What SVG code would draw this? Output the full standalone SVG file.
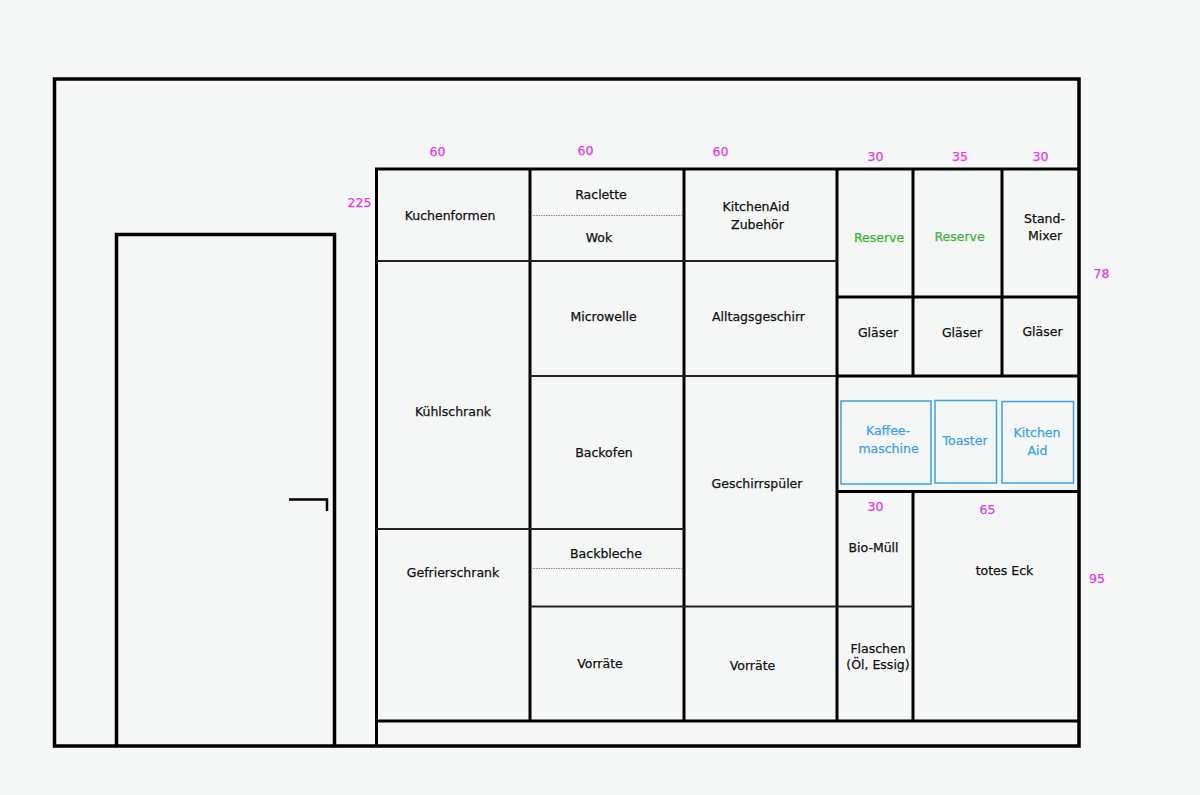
<svg xmlns="http://www.w3.org/2000/svg" width="1200" height="795" viewBox="0 0 1200 795">
<style>
text{font-family:"DejaVu Sans","Liberation Sans",sans-serif;font-size:12.5px;text-anchor:middle;fill:#111;stroke:#111;stroke-width:0.25}
.dim{fill:#e23ce6;stroke:#e23ce6}
.green{fill:#3bb53b;stroke:#3bb53b}
.blue{fill:#3aa3e6;stroke:#3aa3e6}
.wall{fill:none;stroke:#000;stroke-width:3.5}
.k{stroke:#000;stroke-width:3;fill:none}
.t{stroke:#222;stroke-width:2;fill:none}
.dot{stroke:#888;stroke-width:1;stroke-dasharray:1.5 1;fill:none}
.app{fill:none;stroke:#3aa3e6;stroke-width:1.5}
</style>
<rect width="1200" height="795" fill="#f5f6f6"/>
<g id="room">
<rect class="wall" x="54.5" y="79" width="1024.5" height="667"/>
</g>
<g id="door">
<path class="wall" d="M116.5 746V234.5H334.5V746"/>
<path d="M289 499.5H327V511" fill="none" stroke="#000" stroke-width="2.5"/>
</g>
<g id="grid">
<path class="k" d="M376.5 746V169H1079"/>
<path class="k" d="M376.5 721H1079"/>
<path class="k" d="M530 169V721M684 169V721M837 169V721"/>
<path class="k" d="M913 169V376M1002 169V376M913 491.5V721"/>
<path class="t" d="M376.5 261H837"/>
<path class="k" d="M837 297H1079"/>
<path class="t" d="M530 376H837"/>
<path class="k" d="M837 376H1079"/>
<path class="k" d="M837 491.5H1079"/>
<path class="t" d="M376.5 529H684"/>
<path class="t" d="M530 606.5H913"/>
<path class="dot" d="M531 215.5H683M531 568.5H683"/>
</g>
<g id="dimensions">
<text class="dim" x="437.5" y="156">60</text>
<text class="dim" x="585.5" y="155">60</text>
<text class="dim" x="720.5" y="156">60</text>
<text class="dim" x="875.5" y="160.5">30</text>
<text class="dim" x="960" y="160.5">35</text>
<text class="dim" x="1040.5" y="160.5">30</text>
<text class="dim" x="359.5" y="207">225</text>
<text class="dim" x="1101.5" y="277.5">78</text>
<text class="dim" x="875.5" y="511">30</text>
<text class="dim" x="987.5" y="514">65</text>
<text class="dim" x="1097" y="583">95</text>
</g>
<g id="kuchenformen"><text x="450" y="220">Kuchenformen</text></g>
<g id="kuehlschrank"><text x="453" y="416">Kühlschrank</text></g>
<g id="gefrierschrank"><text x="453" y="577">Gefrierschrank</text></g>
<g id="raclette"><text x="601" y="199">Raclette</text></g>
<g id="wok"><text x="599" y="242">Wok</text></g>
<g id="microwelle"><text x="603.5" y="321">Microwelle</text></g>
<g id="backofen"><text x="604" y="457">Backofen</text></g>
<g id="backbleche"><text x="606" y="558">Backbleche</text></g>
<g id="vorraete1"><text x="600" y="668">Vorräte</text></g>
<g id="kitchenaid-zubehoer"><text x="756" y="210.5">KitchenAid</text><text x="757.5" y="228.5">Zubehör</text></g>
<g id="alltagsgeschirr"><text x="758.5" y="321">Alltagsgeschirr</text></g>
<g id="geschirrspueler"><text x="757" y="488">Geschirrspüler</text></g>
<g id="vorraete2"><text x="752.5" y="670">Vorräte</text></g>
<g id="reserve1"><text class="green" x="879" y="242">Reserve</text></g>
<g id="reserve2"><text class="green" x="959.5" y="240.5">Reserve</text></g>
<g id="standmixer"><text x="1044.5" y="223">Stand-</text><text x="1045" y="240">Mixer</text></g>
<g id="glaeser1"><text x="878" y="337">Gläser</text></g>
<g id="glaeser2"><text x="962" y="336.5">Gläser</text></g>
<g id="glaeser3"><text x="1042.5" y="335.5">Gläser</text></g>
<g id="kaffeemaschine"><rect class="app" x="841" y="401" width="90" height="83"/><text class="blue" x="888" y="435">Kaffee-</text><text class="blue" x="888.5" y="453">maschine</text></g>
<g id="toaster"><rect class="app" x="935" y="400.5" width="61.5" height="82.5"/><text class="blue" x="965" y="445">Toaster</text></g>
<g id="kitchenaid"><rect class="app" x="1002" y="401.5" width="71.5" height="81.5"/><text class="blue" x="1037" y="436.5">Kitchen</text><text class="blue" x="1037.5" y="455">Aid</text></g>
<g id="biomuell"><text x="873.5" y="552">Bio-Müll</text></g>
<g id="flaschen"><text x="878" y="652.5">Flaschen</text><text x="878" y="668.5">(Öl, Essig)</text></g>
<g id="totes-eck"><text x="1004.5" y="575">totes Eck</text></g>
</svg>
